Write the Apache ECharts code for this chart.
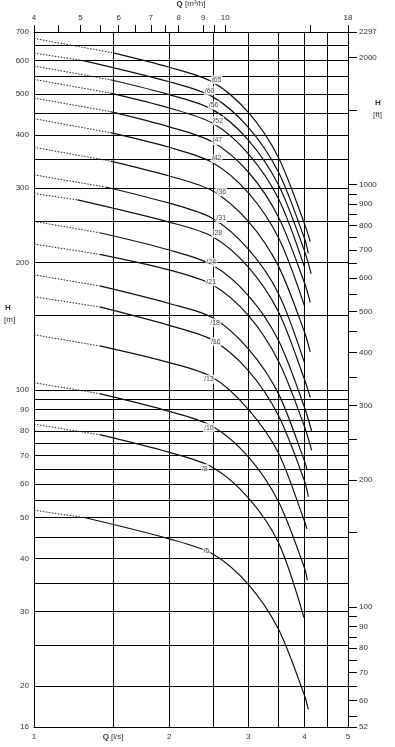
<!DOCTYPE html>
<html><head><meta charset="utf-8">
<script src="https://cdn.jsdelivr.net/npm/echarts@6/dist/echarts.min.js"></script>
<style>html,body{margin:0;padding:0;background:#fff}#c{width:395px;height:747px}</style>
</head><body><div id="c"></div>
<script>
// ---- data (Q in l/s, H in m) ----
const curveLabels = ['/65','/60','/56','/52','/47','/42','/36','/31','/28','/24','/21','/18','/16','/13','/10','/8','/5'];
const hStart  = [676, 624, 582, 541, 489, 437, 374, 322, 291, 250, 221, 187, 166, 135, 104, 83, 52];   // at Q = 1 (dotted start)
const qDotEnd = [1.5, 1.28, 1.48, 1.48, 1.48, 1.48, 1.48, 1.45, 1.25, 1.4, 1.4, 1.4, 1.4, 1.4, 1.4, 1.4, 1.3];
const hDotEnd = [625, 600, 540, 502, 454, 405, 347, 301, 281, 235, 209, 176, 157, 127, 98, 78.4, 49.9];
const qSolid  = [2, 2.5, 3, 3.5, 4];
const hQ2  = [578, 534, 498, 463, 418, 374, 320, 276, 249, 214, 192, 160, 142, 116, 89, 71.2, 44.5];
const hQ25 = [533, 492, 459, 426, 385, 344, 295, 254, 230, 197, 177, 148, 131, 107, 82, 65.6, 41];
const hQ3  = [452, 417, 389, 361, 327, 292, 250, 215, 195, 167, 150, 125, 111, 90, 69.5, 55.6, 34.75];
const hQ35 = [354, 327, 305, 283, 256, 229, 196, 169, 153, 131, 117, 98, 87, 71, 54.5, 43.6, 27.25];
const hQ4  = [247, 228, 213, null, 179, null, 137, null, 106, 91, 82, 68, 61, 49, 38, null, 19];
const qEnd = [4.12, 4.08, 4.14, 4.0, 4.12, 4.0, 4.12, 4.0, 4.12, 4.15, 4.15, 4.05, 4.08, 4.05, 4.06, 3.99, 4.08];
const hEnd = [224, 210, 188, 195, 161, 158, 123, 116, 96, 80, 72, 65, 56, 47, 35.5, 29, 17.6];
const labelQ = [2.55, 2.46, 2.51, 2.57, 2.56, 2.55, 2.61, 2.61, 2.56, 2.48, 2.48, 2.53, 2.54, 2.45, 2.45, 2.4, 2.42];
const labelH = [540, 509, 470, 432, 388, 352, 294, 254, 234, 200, 180, 144, 130, 106, 81.4, 65.2, 41.7];

// axis ticks / labels
const qGridLs   = [1, 1.5, 2, 2.5, 3, 3.5, 4, 4.5, 5];
const qLabelLs  = [1, 1.5, 2, 3, 4, 5];
const qTickM3h  = [4, 4.5, 5, 5.5, 6, 6.5, 7, 7.5, 8, 9, 9.5, 10, 15, 18];
const qLabelM3h = [4, 5, 6, 7, 8, 9, 10, 18];
const hGridM    = [16, 20, 25, 30, 35, 40, 45, 50, 55, 60, 65, 70, 75, 80, 85, 90, 95, 100, 150, 200, 250, 300, 350, 400, 450, 500, 550, 600, 650, 700];
const hLabelM   = [16, 20, 30, 40, 50, 60, 70, 80, 90, 100, 200, 300, 400, 500, 600, 700];
const hTickFt   = [52, 55, 60, 65, 70, 75, 80, 85, 90, 95, 100, 150, 200, 250, 300, 350, 400, 450, 500, 550, 600, 650, 700, 750, 800, 850, 900, 950, 1000, 1500, 2000, 2297];
const hLabelFt  = [52, 60, 70, 80, 90, 100, 200, 300, 400, 500, 600, 700, 800, 900, 1000, 2000, 2297];

const FONT = 'Liberation Sans, Arial, sans-serif';
const TXT = '#333';
const chart = echarts.init(document.getElementById('c'), null, {renderer: 'canvas'});

const series = [];
curveLabels.forEach((name, i) => {
  const dotted = [[1, hStart[i]], [qDotEnd[i], hDotEnd[i]]];
  const solid = [[qDotEnd[i], hDotEnd[i]]];
  const cols = [hQ2, hQ25, hQ3, hQ35, hQ4];
  qSolid.forEach((q, k) => {
    const h = cols[k][i];
    if (h != null && q > qDotEnd[i] + 1e-9 && q < qEnd[i] - 1e-9) solid.push([q, h]);
  });
  solid.push([qEnd[i], hEnd[i]]);
  series.push({type: 'line', name: name + ' dotted', data: dotted, showSymbol: false, silent: true, z: 3,
    lineStyle: {type: [1.5, 1.5], width: 1, color: '#222'}});
  series.push({type: 'line', name: name, data: solid, smooth: 0.3, showSymbol: false, silent: true, z: 3,
    lineStyle: {width: 1.2, color: '#111'}});
});
series.push({type: 'scatter', name: 'labels', z: 10, symbolSize: 1, itemStyle: {color: 'rgba(0,0,0,0)'},
  data: labelQ.map((q, i) => ({value: [q, labelH[i]], name: curveLabels[i]})),
  label: {show: true, position: 'inside', formatter: p => p.name, backgroundColor: '#fff', padding: [1, 1],
    fontSize: 7, fontFamily: FONT, color: '#222'}});

const lbl = (extra) => Object.assign({fontSize: 8, fontFamily: FONT, color: TXT}, extra);

chart.setOption({
  animation: false,
  backgroundColor: '#fff',
  grid: {left: 34, right: 47, top: 32, bottom: 20, outerBoundsMode: 'none'},
  xAxis: [
    {type: 'log', logBase: 10, min: 1, max: 5, position: 'bottom',
     axisLine: {show: true, lineStyle: {color: '#000', width: 1}},
     axisTick: {show: false, customValues: qGridLs},
     splitLine: {show: true, lineStyle: {color: '#000', width: 1}},
     axisLabel: lbl({customValues: qLabelLs, margin: 6,
       formatter: v => Math.abs(v - 1.5) < 1e-6 ? '{b|Q} [l/s]' : String(Math.round(v)),
       rich: {b: {fontWeight: 'bold', fontSize: 8, fontFamily: FONT, color: TXT}}})},
    {type: 'log', logBase: 10, min: 4, max: 18, position: 'top',
     axisLine: {show: true, lineStyle: {color: '#000', width: 1}},
     axisTick: {show: true, inside: false, length: 7, customValues: qTickM3h, lineStyle: {color: '#000'}},
     splitLine: {show: false},
     axisLabel: lbl({customValues: qLabelM3h, margin: 10, formatter: v => String(Math.round(v))}),
     name: '{b|Q} [m³/h]', nameLocation: 'middle', nameGap: 24,
     nameTextStyle: lbl({rich: {b: {fontWeight: 'bold', fontSize: 8, fontFamily: FONT, color: TXT}}})}
  ],
  yAxis: [
    {type: 'log', logBase: 10, min: 16, max: 700, position: 'left',
     axisLine: {show: true, lineStyle: {color: '#000', width: 1}},
     axisTick: {show: false, customValues: hGridM},
     splitLine: {show: true, lineStyle: {color: '#000', width: 1}},
     axisLabel: lbl({customValues: hLabelM, margin: 5, formatter: v => String(Math.round(v))})},
    {type: 'log', logBase: 10, min: 52, max: 2297, position: 'right',
     axisLine: {show: true, lineStyle: {color: '#000', width: 1}},
     axisTick: {show: true, inside: false, length: 9, customValues: hTickFt, lineStyle: {color: '#000'}},
     splitLine: {show: false},
     axisLabel: lbl({customValues: hLabelFt, margin: 11, formatter: v => String(Math.round(v))})}
  ],
  graphic: [
    {type: 'text', left: 5, top: 304, style: {text: 'H', font: 'bold 8px ' + FONT, fill: TXT}},
    {type: 'text', left: 4, top: 316, style: {text: '[m]', font: '8px ' + FONT, fill: TXT}},
    {type: 'text', left: 375, top: 99, style: {text: 'H', font: 'bold 8px ' + FONT, fill: TXT}},
    {type: 'text', left: 373, top: 111, style: {text: '[ft]', font: '8px ' + FONT, fill: TXT}}
  ],
  series: series
});
</script></body></html>
